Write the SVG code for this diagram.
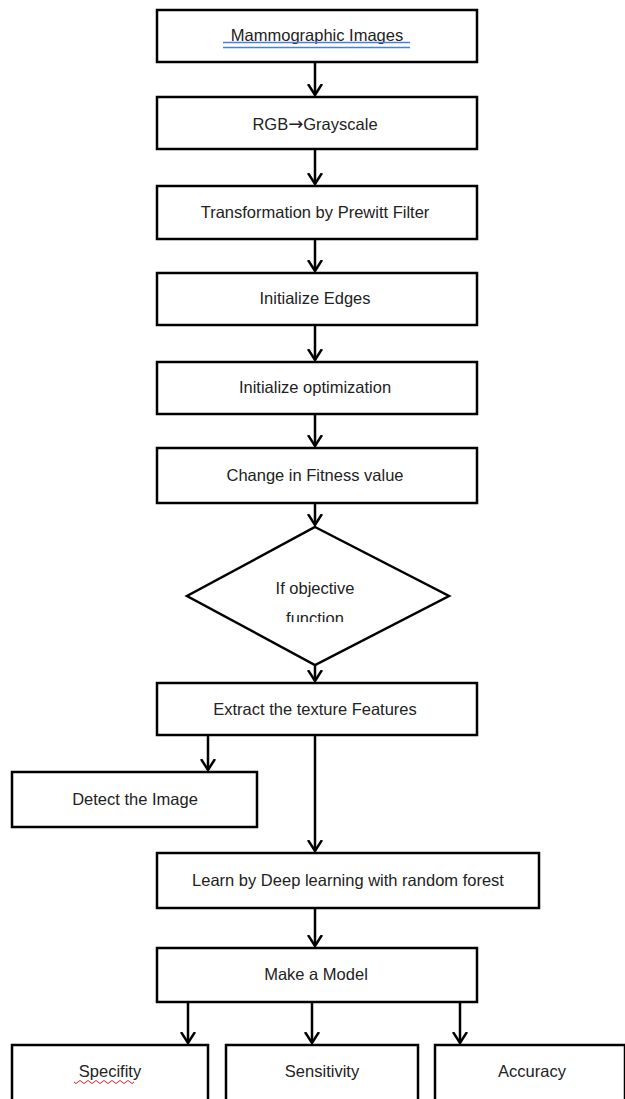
<svg xmlns="http://www.w3.org/2000/svg" width="625" height="1099" viewBox="0 0 625 1099">
<style>
.b{fill:#fff;stroke:#000;stroke-width:2.5}
.t{font-family:"Liberation Sans",Arial,sans-serif;font-size:16.5px;fill:#222;text-anchor:middle}
.c{stroke:#000;stroke-width:2.5;fill:none}
</style>
<defs>
<marker id="ah" markerWidth="14" markerHeight="16" refX="11" refY="7" orient="auto" markerUnits="userSpaceOnUse" viewBox="0 0 14 14">
<path d="M0,0 L11,7 L0,14" fill="none" stroke="#000" stroke-width="2.5"/>
</marker>
<clipPath id="dclip"><rect x="180" y="520" width="280" height="102"/></clipPath>
</defs>
<rect width="625" height="1099" fill="#fff"/>
<g id="connectors">
<line class="c" x1="315" y1="62" x2="315" y2="95" marker-end="url(#ah)"/>
<line class="c" x1="315" y1="149" x2="315" y2="184" marker-end="url(#ah)"/>
<line class="c" x1="315" y1="239" x2="315" y2="271" marker-end="url(#ah)"/>
<line class="c" x1="315" y1="325" x2="315" y2="360" marker-end="url(#ah)"/>
<line class="c" x1="315" y1="414" x2="315" y2="446" marker-end="url(#ah)"/>
<line class="c" x1="315" y1="503" x2="315" y2="525" marker-end="url(#ah)"/>
<line class="c" x1="315" y1="655" x2="315" y2="681" marker-end="url(#ah)"/>
<line class="c" x1="208" y1="735" x2="208" y2="770" marker-end="url(#ah)"/>
<line class="c" x1="315" y1="735" x2="315" y2="851" marker-end="url(#ah)"/>
<line class="c" x1="315" y1="908" x2="315" y2="946" marker-end="url(#ah)"/>
<line class="c" x1="188" y1="1002" x2="188" y2="1043" marker-end="url(#ah)"/>
<line class="c" x1="312" y1="1002" x2="312" y2="1043" marker-end="url(#ah)"/>
<line class="c" x1="460" y1="1002" x2="460" y2="1043" marker-end="url(#ah)"/>
</g>
<g id="n1"><rect class="b" x="157" y="10" width="320" height="52"/>
<text class="t" x="317" y="41">Mammographic  Images</text>
<line x1="223" y1="42.5" x2="410" y2="42.5" stroke="#4a7fe0" stroke-width="1.3"/>
<line x1="223" y1="47.5" x2="410" y2="47.5" stroke="#4a7fe0" stroke-width="1.3"/></g>
<g id="n2"><rect class="b" x="157" y="97" width="320" height="52"/>
<text class="t" x="315" y="130">RGB<tspan font-family="DejaVu Sans, sans-serif" font-size="18">→</tspan>Grayscale</text></g>
<g id="n3"><rect class="b" x="157" y="186" width="320" height="53"/>
<text class="t" x="315" y="218">Transformation by Prewitt Filter</text></g>
<g id="n4"><rect class="b" x="157" y="273" width="320" height="52"/>
<text class="t" x="315" y="304">Initialize Edges</text></g>
<g id="n5"><rect class="b" x="157" y="362" width="320" height="52"/>
<text class="t" x="315" y="393">Initialize optimization</text></g>
<g id="n6"><rect class="b" x="157" y="448" width="320" height="55"/>
<text class="t" x="315" y="481">Change in Fitness value</text></g>
<g id="n7"><polygon class="b" points="315,527 449,596 315,665 187,596"/>
<g clip-path="url(#dclip)">
<text class="t" x="315" y="594">If objective</text>
<text class="t" x="315" y="624">function</text></g></g>
<g id="n8"><rect class="b" x="157" y="683" width="320" height="52"/>
<text class="t" x="315" y="715">Extract the texture Features</text></g>
<g id="n9"><rect class="b" x="12" y="772" width="245" height="55"/>
<text class="t" x="135" y="805">Detect the Image</text></g>
<g id="n10"><rect class="b" x="157" y="853" width="382" height="55"/>
<text class="t" x="348" y="886">Learn by Deep learning with random forest</text></g>
<g id="n11"><rect class="b" x="157" y="948" width="320" height="54"/>
<text class="t" x="316" y="980">Make a Model</text></g>
<g id="n12"><rect class="b" x="12" y="1045" width="196" height="60"/>
<text class="t" x="110" y="1077">Specifity</text>
<path d="M74,1082 q2,3 4,0 t4,0 t4,0 t4,0 t4,0 t4,0 t4,0 t4,0 t4,0 t4,0 t4,0 t4,0 t4,0 t4,0 t4,0" fill="none" stroke="#e02020" stroke-width="1"/></g>
<g id="n13"><rect class="b" x="226" y="1045" width="192" height="60"/>
<text class="t" x="322" y="1077">Sensitivity</text></g>
<g id="n14"><rect class="b" x="435" y="1045" width="190" height="60"/>
<text class="t" x="532" y="1077">Accuracy</text></g>
</svg>
